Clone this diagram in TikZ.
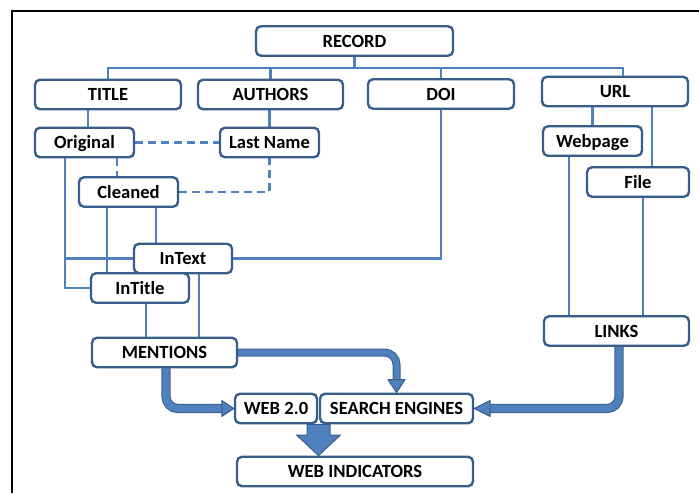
\documentclass[tikz,border=0pt]{standalone}
\usepackage{fontspec}
\setmainfont{Carlito}
\usepackage{tikz}
\usetikzlibrary{backgrounds}
\definecolor{BoxBlue}{RGB}{56,93,138}
\definecolor{LineBlue}{RGB}{79,129,189}

\begin{document}
\begin{tikzpicture}[x=0.5pt, y=-0.5pt,
  box/.style={draw=BoxBlue, fill=white, line width=1.2pt, rounded corners=2.5pt,
    minimum height=14.75pt, inner sep=0pt, text height=6pt, text depth=0pt,
    font=\fontsize{9.3}{11}\selectfont\bfseries},
  link/.style={draw=LineBlue, line width=1.35pt},
  dashlink/.style={link, dash pattern=on 4pt off 2.5pt},
  fat/.style={draw=BoxBlue, line width=0.5pt, double=LineBlue, double distance=3.6pt, rounded corners=6pt},
  head/.style={fill=LineBlue, draw=BoxBlue, line width=0.5pt, line join=round}]
\useasboundingbox (0,0) rectangle (699,493);
\draw[line width=1pt] (11.5,493) -- (11.5,11) -- (699,11);

\node[box, minimum width=98.5pt] (rec) at (354.5,41) {RECORD};
\node[box, minimum width=73pt] (title) at (108,94.5) {TITLE};
\node[box, minimum width=72.5pt] (authors) at (270.5,94.5) {AUTHORS};
\node[box, minimum width=73pt] (doi) at (441,94) {DOI};
\node[box, minimum width=73pt] (url) at (615,91.5) {URL};
\node[box, minimum width=49.5pt] (orig) at (84.5,142.5) {Original};
\node[box, minimum width=49.5pt] (lname) at (269.5,142.5) {Last Name};
\node[box, minimum width=49.5pt] (cleaned) at (128.5,192) {Cleaned};
\node[box, minimum width=49.5pt] (webpage) at (592.5,141) {Webpage};
\node[box, minimum width=51pt] (file) at (638,182) {File};
\node[box, minimum width=49pt] (intext) at (183,258.5) {InText};
\node[box, minimum width=49pt] (intitle) at (140,288) {InTitle};
\node[box, minimum width=72.5pt] (mentions) at (164.5,352.5) {MENTIONS};
\node[box, minimum width=72.5pt] (links) at (616.5,331) {LINKS};
\node[box, minimum width=41pt] (web) at (276,408.5) {WEB 2.0};
\node[box, minimum width=76.5pt] (search) at (396.5,408.5) {SEARCH ENGINES};
\node[box, minimum width=118pt] (ind) at (355,471.5) {WEB INDICATORS};

\coordinate (busL) at (109,68);
\coordinate (busR) at (623,68);
\begin{scope}[on background layer]
\draw[link] (rec.south) -- (rec.south |- busL);
\draw[link] (title.north) |- (busR) -- (busR |- url.north);
\draw[link] (authors.north) -- (authors.north |- busL);
\draw[link] (doi.north) -- (doi.north |- busL);
\draw[link] (title.south -| 88,0) -- (orig.north -| 88,0);
\draw[link] (lname.north) -- (lname.north |- authors.south);
\draw[dashlink] (orig.east) -- (lname.west);
\draw[dashlink] (orig.south -| 117,0) -- (cleaned.north -| 117,0);
\draw[dashlink] (cleaned.east) -| (lname.south);
\draw[link] (orig.south -| 65,0) |- (intitle.west);
\draw[link] (intext.west) -- (intext.west -| 65,0);
\draw[link] (cleaned.south -| 107,0) -- (intitle.north -| 107,0);
\draw[link] (cleaned.south -| 156,0) -- (intext.north -| 156,0);
\draw[link] (intext.east) -| (doi.south);
\draw[link] (intitle.south -| 146,0) -- (mentions.north -| 146,0);
\draw[link] (intext.south -| 199,0) -- (mentions.north -| 199,0);
\draw[link] (webpage.north) -- (webpage.north |- url.south);
\draw[link] (url.south -| 652,0) -- (file.north -| 652,0);
\draw[link] (webpage.south -| 569,0) -- (links.north -| 569,0);
\draw[link] (file.south -| 643,0) -- (links.north -| 643,0);

\draw[fat] (mentions.south -| 166,0) |- ([xshift=-5.5pt]web.west);
\filldraw[head] (web.west) -- ++(-12,-8) -- ++(0,16) -- cycle;
\draw[fat, double distance=3pt] (mentions.east) -| ([yshift=6.5pt]search.north);
\filldraw[head] (search.north) -- ++(-8.5,-13) -- ++(17,0) -- cycle;
\draw[fat] (links.south -| 619,0) |- ([xshift=7.5pt]search.east);
\filldraw[head] (search.east) -- ++(16,-8) -- ++(0,16) -- cycle;
\filldraw[head] (web.south -| 307,0) -- (307,435) -- (296.5,435) -- (ind.north -| 318.5,0)
  -- (340.5,435) -- (330,435) -- (web.south -| 330,0) -- cycle;
\end{scope}
\end{tikzpicture}
\end{document}
